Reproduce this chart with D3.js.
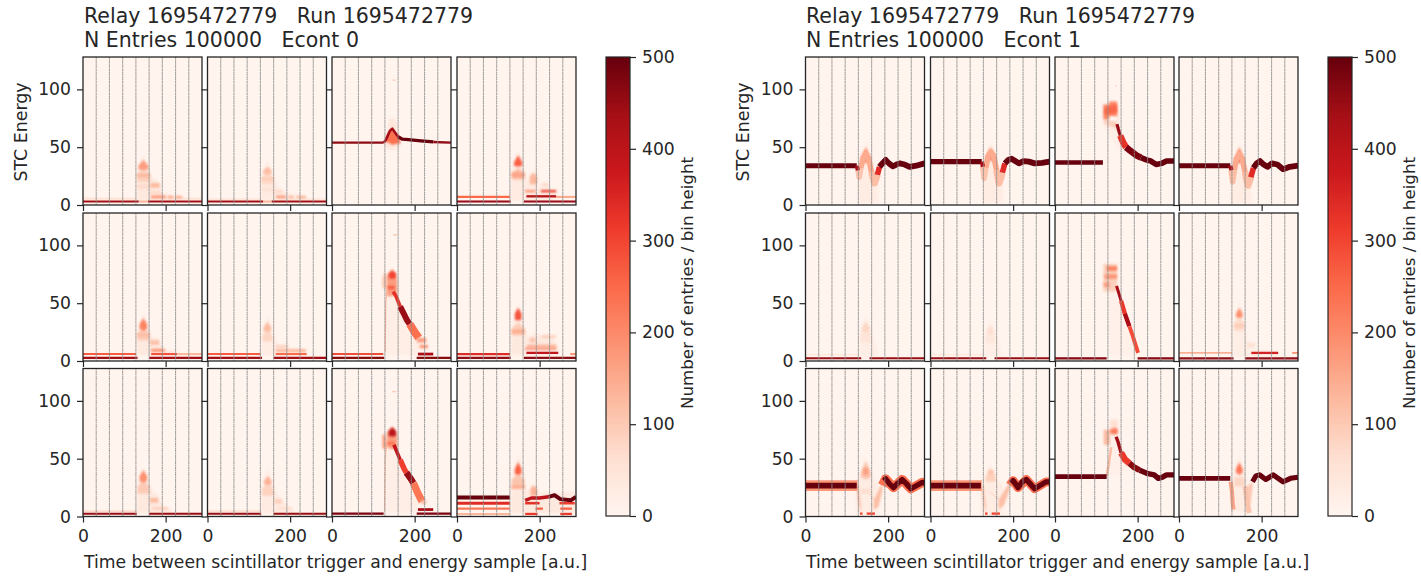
<!DOCTYPE html>
<html>
<head>
<meta charset="utf-8">
<script src="https://cdn.jsdelivr.net/npm/d3@7"></script>
<style>
  body { margin: 0; background: #fff; }
  text { font-family: "DejaVu Sans", sans-serif; fill: #262626; white-space: pre; }
  .tick text { font-size: 17.2px; }
  .tick line { stroke: #262626; stroke-width: 1.2; }
</style>
</head>
<body>
<script>
// tick labels and axis ranges
const xTicks = [0, 200];
const yTicks = [0, 50, 100];
const barTicks = [0, 100, 200, 300, 400, 500];
const gridTimes = [32, 64, 96, 128, 160, 192, 224, 256];
const redsStops = ["#fff5f0", "#fee0d2", "#fcbba1", "#fc9272", "#fb6a4a", "#ef3b2c", "#cb181d", "#a50f15", "#67000d"];

// each layer: [entries, half height, [[time, energy] ...]] or [entries, 0, [[time, low, high] ...]]
const e0_r0c0 = [
  [35, 0, [[129, 4, 6], [133, 4, 30], [146, 4, 44], [159, 4, 30], [166, 4, 24], [182, 4, 20], [190, 4, 10], [240, 4, 8]]],
  [55, 0.9, [[0, 5.5], [128, 5.5]]], [55, 0.9, [[165, 5.5], [288, 5.5]]],
  [90, 0, [[131, 20, 27], [146, 20, 31], [163, 20, 27]]],
  [170, 0, [[134, 31, 34], [146, 30, 39], [158, 31, 34]]],
  [130, 0, [[131, 24, 27], [161, 24, 27]]],
  [70, 0, [[131, 14, 18], [164, 14, 18]]],
  [125, 0, [[163, 15, 19], [186, 15, 19]]],
  [70, 0, [[160, 9, 12], [190, 9, 12]]],
  [200, 0, [[165, 6, 8], [200, 6, 8]]], [190, 0, [[206, 6, 7.6], [218, 6, 7.6]]], [170, 0, [[224, 6, 7.6], [240, 6, 7.6]]],
  [440, 0.9, [[0, 3], [135, 3]]], [440, 0.9, [[157, 3], [288, 3]]], [130, 0.9, [[135, 3], [157, 3]]]
];
const e0_r0c1 = [
  [30, 0, [[129, 4, 6], [133, 4, 26], [145, 4, 39], [158, 4, 27], [168, 4, 17], [185, 4, 11], [240, 4, 8]]],
  [45, 0.8, [[0, 5], [128, 5]]], [45, 0.8, [[170, 5], [288, 5]]],
  [75, 0, [[132, 18, 24], [145, 18, 28], [159, 18, 24]]],
  [120, 0, [[135, 27, 30], [145, 26, 33], [155, 27, 30]]],
  [95, 0, [[131, 21, 24], [160, 21, 24]]],
  [60, 0, [[131, 12, 15], [162, 12, 15]]],
  [70, 0, [[160, 10, 13], [182, 10, 13]]],
  [190, 0, [[166, 6, 8], [190, 6, 8]]], [160, 0, [[196, 6, 7.6], [208, 6, 7.6]]], [160, 0, [[216, 6, 7.6], [238, 6, 7.6]]],
  [440, 0.9, [[0, 3], [135, 3]]], [440, 0.9, [[155, 3], [288, 3]]], [130, 0.9, [[135, 3], [155, 3]]]
];
const e0_r0c2 = [
  [45, 0, [[136, 64, 71], [141, 64, 75], [151, 64, 75], [157, 64, 70]]],
  [35, 0, [[128, 50, 56], [145, 47, 58], [162, 50, 56]]],
  [80, 0.6, [[146, 108], [155, 108]]],
  [240, 0, [[130, 54, 58], [137, 54, 63], [146, 52, 66], [155, 53, 62], [165, 53, 58]]],
  [460, 1, [[0, 54], [125, 54]]],
  [440, 1.1, [[125, 54], [130, 56], [135, 60], [140, 64], [146, 66], [152, 63], [160, 59], [170, 57]]],
  [500, 1.4, [[160, 59], [170, 57], [185, 56.5], [215, 55.5], [245, 54.5]]],
  [460, 1, [[245, 54.5], [288, 54]]]
];
const e0_r0c3 = [
  [30, 0, [[129, 4, 8], [133, 4, 30], [148, 4, 48], [163, 4, 30], [172, 4, 20], [185, 4, 30], [195, 4, 15], [210, 4, 20], [225, 4, 14], [240, 4, 10]]],
  [120, 0, [[134, 22, 28], [148, 22, 32], [162, 22, 28]]],
  [260, 0, [[138, 34, 37], [148, 33, 43], [158, 34, 37]]],
  [160, 0, [[132, 24, 28], [164, 24, 28]]],
  [130, 0, [[176, 18, 25], [185, 18, 28], [194, 18, 25]]],
  [70, 0, [[205, 16, 19], [222, 16, 19]]],
  [190, 0, [[165, 11, 13], [190, 11, 13]]],
  [320, 0, [[203, 11, 13], [240, 11, 13]]],
  [250, 0.9, [[0, 7], [128, 7]]], [410, 1, [[168, 7.5], [240, 7.5]]], [150, 0.9, [[240, 7], [288, 7]]],
  [450, 0.9, [[0, 3], [130, 3]]], [450, 0.9, [[162, 3], [288, 3]]]
];
const e0_r1c0 = [
  [35, 0, [[130, 5, 8], [134, 5, 28], [146, 5, 42], [159, 5, 28], [168, 5, 20], [182, 5, 20], [195, 5, 10], [228, 5, 9]]],
  [100, 0, [[132, 18, 24], [146, 18, 29], [160, 18, 24]]],
  [210, 0, [[137, 28, 32], [146, 26, 37], [155, 28, 32]]],
  [120, 0, [[131, 21, 24], [161, 21, 24]]],
  [115, 0, [[162, 14, 18], [184, 14, 18]]],
  [190, 0, [[165, 8, 10.5], [198, 8, 10.5]]],
  [270, 0.9, [[0, 6], [128, 6]]], [280, 0.9, [[165, 6], [228, 6]]], [130, 0.9, [[228, 6], [288, 6]]],
  [440, 0.9, [[0, 2.7], [132, 2.7]]], [440, 0.9, [[160, 2.7], [288, 2.7]]]
];
const e0_r1c1 = [
  [28, 0, [[130, 5, 8], [134, 5, 26], [145, 5, 39], [158, 5, 24], [170, 5, 15], [190, 5, 12], [240, 5, 10]]],
  [80, 0, [[133, 17, 22], [145, 17, 27], [157, 17, 22]]],
  [125, 0, [[136, 26, 29], [145, 25, 34], [154, 26, 29]]],
  [80, 0, [[166, 11, 14], [195, 11, 14]]],
  [150, 0, [[165, 8, 10], [238, 8, 10]]],
  [270, 0.9, [[0, 6], [128, 6]]], [250, 0.9, [[165, 6], [240, 6]]],
  [440, 0.9, [[0, 2.7], [132, 2.7]]], [440, 0.9, [[160, 2.7], [288, 2.7]]]
];
const e0_r1c2 = [
  [22, 0, [[130, 5, 50], [136, 5, 62], [160, 5, 48], [190, 5, 22], [210, 5, 15]]],
  [110, 0.6, [[148, 109], [157, 109]]],
  [130, 0.5, [[129, 8], [130, 50], [133, 62]]],
  [110, 0, [[122, 64, 72], [128, 62, 77], [133, 62, 74]]],
  [170, 0, [[133, 56, 73], [146, 56, 80], [158, 58, 70]]],
  [300, 0, [[137, 72, 76], [146, 71, 78], [155, 72, 76]]],
  [270, 0, [[135, 62, 65], [152, 62, 65]]],
  [330, 1.6, [[148, 60], [155, 56], [165, 47]]],
  [450, 2.6, [[165, 47], [175, 40], [182, 35], [188, 32]]],
  [240, 3.4, [[188, 32], [200, 25], [210, 20]]],
  [170, 0, [[205, 16, 20], [228, 16, 20]]],
  [180, 0, [[212, 11, 14], [232, 11, 14]]],
  [430, 1.2, [[208, 6], [245, 6]]],
  [290, 0.9, [[0, 6], [124, 6]]],
  [470, 0.9, [[0, 2.7], [126, 2.7]]], [470, 0.9, [[205, 2.7], [288, 2.7]]]
];
const e0_r1c3 = [
  [35, 0, [[130, 5, 8], [134, 5, 30], [148, 5, 49], [162, 5, 30], [172, 5, 20], [185, 5, 24], [205, 5, 22], [225, 5, 24], [245, 5, 12]]],
  [100, 0, [[133, 22, 28], [148, 22, 33], [163, 22, 28]]],
  [280, 0, [[140, 36, 41], [148, 35, 46], [156, 36, 41]]],
  [150, 0, [[132, 24, 27], [164, 24, 27]]],
  [110, 0, [[176, 16, 20], [190, 16, 20]]], [100, 0, [[205, 20, 22], [240, 20, 22]]],
  [150, 0, [[170, 12, 14], [240, 12, 14]]],
  [230, 0, [[165, 10, 11.5], [240, 10, 11.5]]],
  [340, 1, [[0, 6], [128, 6]]], [390, 1, [[168, 7], [245, 7]]], [180, 0.9, [[274, 6], [288, 6]]],
  [460, 0.9, [[0, 2.7], [130, 2.7]]], [460, 0.9, [[162, 2.7], [288, 2.7]]]
];
const e0_r2c0 = [
  [35, 0, [[129, 3, 5], [133, 3, 28], [146, 3, 43], [160, 3, 28], [168, 3, 22], [182, 3, 18], [195, 3, 8], [215, 3, 6]]],
  [100, 0, [[132, 20, 26], [146, 20, 31], [161, 20, 26]]],
  [190, 0, [[137, 31, 35], [146, 29, 40], [155, 31, 35]]],
  [125, 0, [[162, 12, 16], [182, 12, 16]]],
  [100, 0, [[168, 6, 8], [205, 6, 8]]],
  [70, 0.7, [[0, 4.6], [128, 4.6]]],
  [450, 0.9, [[0, 2.4], [130, 2.4]]], [450, 0.9, [[160, 2.4], [288, 2.4]]]
];
const e0_r2c1 = [
  [30, 0, [[129, 3, 5], [133, 3, 26], [146, 3, 41], [160, 3, 26], [168, 3, 20], [180, 3, 16], [195, 3, 8], [210, 3, 5]]],
  [85, 0, [[132, 18, 24], [146, 18, 29], [160, 18, 24]]],
  [140, 0, [[137, 28, 31], [146, 27, 35], [155, 28, 31]]],
  [90, 0, [[162, 11, 15], [180, 11, 15]]],
  [70, 0, [[168, 6, 8], [205, 6, 8]]],
  [60, 0.7, [[0, 4.6], [128, 4.6]]],
  [450, 0.9, [[0, 2.4], [130, 2.4]]], [450, 0.9, [[160, 2.4], [288, 2.4]]]
];
const e0_r2c2 = [
  [20, 0, [[130, 3, 55], [136, 3, 64], [160, 3, 50], [190, 3, 24], [210, 3, 12]]],
  [100, 0.6, [[146, 108], [155, 108]]],
  [120, 0.5, [[127, 5], [129, 50], [132, 62]]],
  [170, 0, [[122, 60, 70], [127, 58, 72], [131, 60, 68]]],
  [170, 0, [[133, 60, 72], [146, 58, 78], [158, 60, 70]]],
  [400, 0, [[137, 70, 74], [146, 69, 77], [155, 70, 74]]],
  [240, 0, [[134, 62, 64.5], [152, 62, 64.5]]],
  [390, 1.6, [[150, 62], [158, 55], [165, 49]]],
  [310, 2.4, [[165, 49], [175, 41], [180, 38]]],
  [450, 2.8, [[180, 38], [190, 33], [197, 29]]],
  [230, 3.2, [[197, 29], [208, 20], [218, 13]]],
  [130, 0, [[214, 11, 14], [228, 11, 14]]],
  [430, 1.2, [[208, 6], [245, 6]]],
  [480, 1, [[0, 2.5], [125, 2.5]]], [480, 1, [[205, 2.5], [288, 2.5]]]
];
const e0_r2c3 = [
  [35, 0, [[130, 3, 20], [134, 3, 36], [148, 3, 53], [162, 3, 36], [170, 3, 20], [182, 3, 28], [195, 3, 20], [288, 3, 21]]],
  [110, 0, [[133, 26, 32], [148, 26, 37], [163, 26, 32]]],
  [260, 0, [[140, 37, 41], [148, 36, 47], [156, 37, 41]]],
  [150, 0, [[132, 24, 27], [164, 24, 27]]],
  [140, 0, [[178, 18, 24], [186, 18, 27], [194, 18, 24]]],
  [340, 1.3, [[0, 11.5], [128, 11.5]]], [330, 1.1, [[165, 11.5], [200, 11.5]]], [310, 1.1, [[248, 11.5], [285, 11.5]]],
  [230, 1, [[0, 6.8], [128, 6.8]]], [260, 1, [[190, 6.8], [208, 6.8]]], [260, 1, [[250, 6.8], [278, 6.8]]],
  [130, 0.9, [[0, 2.2], [128, 2.2]]], [320, 1, [[165, 2.2], [195, 2.2]]], [320, 1, [[250, 2.2], [278, 2.2]]],
  [500, 1.8, [[0, 16.4], [128, 16.4]]],
  [400, 1.5, [[165, 14], [180, 16], [200, 16], [222, 17]]],
  [500, 1.7, [[222, 17], [236, 18.5], [250, 15], [275, 14], [288, 17]]]
];

const e1_r0c0 = [
  [25, 0, [[127, 2, 30], [133, 2, 40], [146, 2, 54], [158, 2, 40], [166, 2, 30], [176, 2, 30]]],
  [200, 0, [[134, 38, 41], [146, 36, 50], [158, 38, 41]]],
  [110, 2.4, [[126, 32], [130, 24], [134, 32]]],
  [150, 2.4, [[134, 32], [139, 40], [146, 44], [153, 40], [160, 28]]],
  [120, 3, [[160, 28], [167, 19], [174, 26]]],
  [340, 2.4, [[174, 26], [179, 33]]],
  [500, 2.2, [[0, 34], [124, 34]]], [430, 1.8, [[124, 34], [127, 30]]],
  [500, 2.5, [[179, 33], [186, 36], [194, 39], [202, 36], [211, 33.5], [220, 35], [228, 36], [240, 35], [252, 33], [268, 34], [288, 36]]]
];
const e1_r0c1 = [
  [25, 0, [[127, 2, 32], [133, 2, 42], [146, 2, 54], [158, 2, 42], [166, 2, 32], [176, 2, 32]]],
  [200, 0, [[134, 39, 42], [146, 38, 50], [158, 39, 42]]],
  [110, 2.4, [[126, 34], [130, 23], [134, 32]]],
  [150, 2.4, [[134, 32], [139, 42], [146, 46], [153, 42], [160, 30]]],
  [120, 3, [[160, 30], [166, 19], [174, 28]]],
  [340, 2.4, [[174, 28], [180, 36]]],
  [500, 2.3, [[0, 37.5], [124, 37.5]]], [430, 1.8, [[124, 37.5], [127, 33]]],
  [500, 2.5, [[180, 36], [188, 39], [196, 40], [205, 38], [214, 36], [225, 38], [238, 37.5], [252, 36], [270, 36.5], [288, 37.5]]]
];
const e1_r0c2 = [
  [20, 0, [[118, 68, 72], [150, 50, 72], [175, 44, 50]]],
  [70, 0.8, [[146, 103], [150, 103]]],
  [90, 0, [[118, 70, 74], [150, 66, 72]]],
  [210, 0, [[117, 74, 87], [130, 74, 87], [132, 77, 89.5], [150, 77, 89.5], [151, 70, 80]]],
  [255, 0, [[120, 78, 84], [150, 80, 87]]],
  [450, 1.4, [[150, 70], [153, 66], [158, 60]]],
  [330, 2.8, [[158, 60], [165, 54], [172, 50]]],
  [480, 2.8, [[172, 50], [182, 47], [197, 43], [208, 41]]],
  [500, 2.4, [[208, 41], [221, 39], [232, 38], [245, 35], [258, 36], [270, 38], [288, 38]]],
  [500, 2, [[0, 36.8], [116, 36.8]]]
];
const e1_r0c3 = [
  [25, 0, [[126, 2, 28], [133, 2, 38], [146, 2, 54], [158, 2, 38], [166, 2, 30], [176, 2, 28]]],
  [210, 0, [[134, 37, 40], [146, 36, 50], [158, 37, 40]]],
  [120, 2.4, [[126, 30], [130, 20], [134, 30]]],
  [150, 2.4, [[134, 30], [139, 40], [146, 44], [153, 40], [160, 28]]],
  [120, 3, [[160, 28], [167, 17], [174, 24]]],
  [340, 2.4, [[174, 24], [180, 32]]],
  [500, 2.2, [[0, 34], [124, 34]]], [430, 1.8, [[124, 34], [127, 30]]],
  [500, 2.5, [[180, 32], [188, 36], [196, 38], [205, 35], [214, 33], [225, 36], [238, 35], [252, 31], [268, 33], [288, 34]]]
];
const e1_r1c0 = [
  [20, 0, [[130, 4, 8], [133, 4, 26], [146, 4, 40], [160, 4, 24], [175, 4, 8]]],
  [50, 0, [[133, 16, 24], [146, 16, 30], [159, 16, 24]]],
  [80, 0, [[137, 26, 29], [146, 25, 34], [155, 26, 29]]],
  [35, 0.7, [[0, 5.5], [128, 5.5]]],
  [450, 0.9, [[0, 2.4], [135, 2.4]]], [450, 0.9, [[155, 2.4], [288, 2.4]]]
];
const e1_r1c1 = [
  [18, 0, [[130, 4, 8], [133, 4, 24], [145, 4, 37], [159, 4, 22], [172, 4, 8]]],
  [40, 0, [[133, 15, 22], [145, 15, 28], [157, 15, 22]]],
  [65, 0, [[137, 24, 26], [145, 23, 31], [153, 24, 26]]],
  [30, 0.7, [[0, 5.5], [128, 5.5]]],
  [450, 0.9, [[0, 2.4], [135, 2.4]]], [450, 0.9, [[155, 2.4], [288, 2.4]]]
];
const e1_r1c2 = [
  [15, 0, [[130, 5, 62], [150, 5, 60], [190, 5, 22]]],
  [90, 0, [[117, 60, 84], [150, 60, 84]]],
  [170, 0, [[118, 64, 68], [132, 64, 68]]], [180, 0, [[120, 71, 75], [150, 71, 75]]], [210, 0, [[125, 78, 82], [150, 78, 82]]],
  [430, 1.3, [[149, 65], [155, 58], [160, 52]]],
  [320, 1.9, [[160, 52], [165, 46], [169, 41]]],
  [430, 1.9, [[169, 41], [176, 34], [180, 30]]],
  [290, 1.7, [[180, 30], [188, 22], [194, 15], [201, 7]]],
  [470, 1, [[0, 2.2], [125, 2.2]]], [470, 1, [[200, 2.2], [288, 2.2]]]
];
const e1_r1c3 = [
  [22, 0, [[130, 4, 8], [133, 4, 30], [146, 4, 53], [160, 4, 28], [170, 4, 14], [190, 4, 9], [240, 4, 9]]],
  [70, 0, [[133, 26, 33], [146, 26, 38], [158, 26, 33]]],
  [190, 0, [[138, 38, 41], [146, 37, 46], [154, 38, 41]]],
  [100, 0, [[134, 29, 32], [158, 29, 32]]],
  [60, 0, [[165, 12, 16], [185, 12, 16]]],
  [140, 0.8, [[0, 7], [128, 7]]], [360, 1, [[175, 7], [240, 7]]], [180, 0.8, [[274, 7], [288, 7]]],
  [460, 0.9, [[0, 2.3], [132, 2.3]]], [460, 0.9, [[160, 2.3], [288, 2.3]]]
];
const e1_r2c0 = [
  [25, 0, [[122, 2, 30], [133, 2, 38], [146, 2, 52], [160, 2, 34], [175, 2, 30]]],
  [110, 0, [[134, 34, 38], [146, 32, 48], [158, 34, 38]]],
  [70, 0, [[135, 20, 24], [158, 20, 24]]],
  [170, 0, [[140, 36, 42], [152, 36, 42]]],
  [60, 0.8, [[140, 24], [170, 14]]],
  [300, 1, [[132, 2.5], [138, 2.5]]], [300, 1, [[148, 2.5], [168, 2.5]]],
  [120, 0, [[124, 24, 27], [128, 12, 26], [134, 3, 10]]],
  [120, 0, [[165, 6, 14], [176, 8, 22], [186, 22, 30]]],
  [180, 4.6, [[0, 26.7], [126, 26.7]]],
  [500, 2.4, [[0, 26.7], [124, 26.7]]],
  [240, 4, [[186, 27], [194, 32.6], [213, 25], [234, 32], [255, 24], [283, 29.5], [288, 29]]],
  [500, 2.3, [[190, 31], [194, 32.6], [204, 28], [213, 25], [224, 29], [234, 32], [245, 28], [255, 24], [270, 27], [283, 29.5], [288, 29]]]
];
const e1_r2c1 = [
  [24, 0, [[122, 2, 30], [133, 2, 36], [146, 2, 46], [160, 2, 32], [175, 2, 28]]],
  [90, 0, [[134, 30, 34], [146, 30, 42], [158, 30, 34]]],
  [110, 0, [[140, 36, 40], [152, 36, 40]]],
  [60, 0.8, [[140, 22], [170, 14]]],
  [300, 1, [[132, 2.5], [138, 2.5]]], [300, 1, [[148, 2.5], [168, 2.5]]],
  [120, 0, [[124, 24, 27], [128, 12, 26], [134, 3, 10]]],
  [120, 0, [[165, 6, 14], [178, 10, 22], [192, 24, 30]]],
  [180, 4.6, [[0, 26.7], [124, 26.7]]],
  [500, 2.4, [[0, 26.7], [122, 26.7]]],
  [240, 3.8, [[192, 27], [200, 31], [212, 25], [232, 32], [252, 24], [280, 30], [288, 30]]],
  [500, 2.3, [[195, 29], [200, 31], [206, 28], [212, 25], [222, 30], [232, 32], [242, 28], [252, 24], [266, 27], [280, 30], [288, 30]]]
];
const e1_r2c2 = [
  [15, 0, [[125, 35, 50], [133, 36, 70], [150, 35, 70], [175, 40, 50]]],
  [60, 0, [[134, 70, 84], [152, 70, 84]]],
  [130, 0, [[118, 62, 75], [133, 62, 75]]],
  [220, 0, [[133, 72, 75], [146, 71, 77], [152, 72, 75]]],
  [120, 1.1, [[125, 35], [130, 45], [136, 60]]],
  [440, 1.5, [[148, 69], [153, 64], [160, 55]]],
  [320, 2.8, [[160, 55], [170, 49], [180, 46]]],
  [470, 2.6, [[180, 46], [190, 43], [205, 40]]],
  [500, 2.3, [[205, 40], [225, 37], [240, 36], [250, 33], [260, 34], [270, 36], [288, 36]]],
  [500, 2.1, [[0, 34.5], [125, 34.5]]]
];
const e1_r2c3 = [
  [24, 0, [[125, 4, 30], [133, 4, 38], [146, 4, 52], [158, 4, 38], [166, 4, 28], [176, 4, 28]]],
  [230, 0, [[138, 38, 41], [146, 36, 47], [154, 38, 41]]],
  [80, 0, [[134, 26, 34], [158, 26, 34]]],
  [160, 1.8, [[125, 30], [128, 22], [130, 12], [132, 6]]],
  [110, 2.2, [[160, 26], [166, 10], [170, 3]]],
  [110, 0, [[166, 10, 26], [172, 10, 28], [178, 26, 30]]],
  [500, 2, [[0, 33], [124, 33]]],
  [500, 2.2, [[178, 30], [186, 35], [195, 36], [210, 32], [228, 36], [240, 33], [252, 30], [270, 33], [288, 34]]]
];

const econt0Panels = [
  [e0_r0c0, e0_r0c1, e0_r0c2, e0_r0c3],
  [e0_r1c0, e0_r1c1, e0_r1c2, e0_r1c3],
  [e0_r2c0, e0_r2c1, e0_r2c2, e0_r2c3]
];
const econt1Panels = [
  [e1_r0c0, e1_r0c1, e1_r0c2, e1_r0c3],
  [e1_r1c0, e1_r1c1, e1_r1c2, e1_r1c3],
  [e1_r2c0, e1_r2c1, e1_r2c2, e1_r2c3]
];

const svg = d3.select("body").append("svg")
    .attr("width", 1421)
    .attr("height", 576)
    .style("display", "block");

// the reference is a resampled image: blobs are soft, ridges a bit less
// filter regions in user space, flat lines have an empty bounding box
let defs = svg.append("defs");
defs.append("filter").attr("id", "softLine")
    .attr("filterUnits", "userSpaceOnUse")
    .attr("x", -10).attr("y", -10).attr("width", 140).attr("height", 170)
    .append("feGaussianBlur").attr("stdDeviation", 0.6);
defs.append("filter").attr("id", "softBlob")
    .attr("filterUnits", "userSpaceOnUse")
    .attr("x", -10).attr("y", -10).attr("width", 140).attr("height", 170)
    .append("feGaussianBlur").attr("stdDeviation", 1);

const color = d3.scaleLinear()
    .domain(redsStops.map((d, i) => i * 500 / (redsStops.length - 1)))
    .range(redsStops);

const rowTops = [57, 213, 368.5];
const panelH = 148;
const panelW = 119;

function drawFigure(panels, colLefts, barLeft, econt, left, yLabelX, barLabelX) {
    let fig = svg.append("g");

    // title
    fig.append("text").attr("x", left).attr("y", 23).style("font-size", "20.5px")
        .text("Relay 1695472779   Run 1695472779");
    fig.append("text").attr("x", left).attr("y", 47).style("font-size", "20.5px")
        .text(`N Entries 100000   Econt ${econt}`);

    panels.forEach((row, r) => {
        row.forEach((layers, c) => {
            let g = fig.append("g").attr("transform", `translate(${colLefts[c]},${rowTops[r]})`);
            let x = d3.scaleLinear().domain([0, 288]).range([0, panelW]);
            let y = d3.scaleLinear().domain([0, 128]).range([panelH, 0]);
            let clipId = `clip-${econt}-${r}-${c}`;

            g.append("clipPath").attr("id", clipId)
                .append("rect").attr("width", panelW).attr("height", panelH);

            g.append("rect").attr("width", panelW).attr("height", panelH).attr("fill", color(4));

            let marks = g.append("g").attr("clip-path", `url(#${clipId})`);

            layers.forEach(layer => {
                let w = layer[1];
                if (w > 0) {
                    // a ridge keeps its thickness on steep stretches too
                    let line = d3.line().x(d => x(d[0])).y(d => y(d[1]));
                    marks.append("path").attr("d", line(layer[2]))
                        .attr("fill", "none")
                        .attr("stroke", color(layer[0]))
                        .attr("stroke-width", y(0) - y(2 * w))
                        .attr("stroke-linejoin", "round")
                        .attr("filter", "url(#softLine)");
                } else {
                    let area = d3.area().x(d => x(d[0])).y0(d => y(d[1])).y1(d => y(d[2]));
                    marks.append("path").attr("d", area(layer[2]))
                        .attr("fill", color(layer[0]))
                        .attr("filter", "url(#softBlob)");
                }
            });

            // dotted section lines
            g.selectAll(".section").data(gridTimes).enter().append("line")
                .attr("x1", d => x(d)).attr("x2", d => x(d))
                .attr("y1", 0).attr("y2", panelH)
                .attr("stroke", "#8c8c8c")
                .attr("stroke-width", 1.1)
                .attr("stroke-dasharray", "2,0.4")
                .attr("opacity", 0.8);

            g.append("rect").attr("width", panelW).attr("height", panelH)
                .attr("fill", "none").attr("stroke", "#262626").attr("stroke-width", 1.3);

            let yAxis = d3.axisLeft(y).tickValues(yTicks).tickSize(6).tickPadding(6);
            if (c > 0) yAxis.tickFormat("");
            g.append("g").call(yAxis).call(s => s.select(".domain").remove());

            let xAxis = d3.axisBottom(x).tickValues(xTicks).tickSize(6).tickPadding(7);
            if (r < 2) xAxis.tickFormat("");
            g.append("g").attr("transform", `translate(0,${panelH})`).call(xAxis)
                .call(s => s.select(".domain").remove());
        });
    });

    // axis labels
    fig.append("text").attr("x", left).attr("y", 568).style("font-size", "17.2px")
        .text("Time between scintillator trigger and energy sample [a.u.]");
    fig.append("text")
        .attr("transform", `translate(${yLabelX},132) rotate(-90)`)
        .attr("text-anchor", "middle").style("font-size", "17.4px")
        .text("STC Energy");

    // colour bar
    let barY = d3.scaleLinear().domain([0, 500]).range([516, 57]);
    let barG = fig.append("g").attr("transform", `translate(${barLeft},0)`);
    barG.selectAll(".cell").data(d3.range(0, 500)).enter().append("rect")
        .attr("x", 0).attr("width", 24)
        .attr("y", d => barY(d + 1)).attr("height", 1.5)
        .attr("shape-rendering", "crispEdges")
        .attr("fill", d => color(d + 0.5));
    barG.append("rect").attr("y", 57).attr("width", 24).attr("height", 459)
        .attr("fill", "none").attr("stroke", "#262626").attr("stroke-width", 1.2);
    barG.append("g").attr("transform", "translate(24,0)")
        .call(d3.axisRight(barY).tickValues(barTicks).tickSize(6).tickPadding(6))
        .call(s => s.select(".domain").remove());
    fig.append("text")
        .attr("transform", `translate(${barLabelX},283) rotate(-90)`)
        .attr("text-anchor", "middle").style("font-size", "16.7px")
        .text("Number of entries / bin height");
}

drawFigure(econt0Panels, [83, 207.5, 332, 457], 606, 0, 84, 27, 693);
drawFigure(econt1Panels, [805.5, 930.5, 1055, 1179], 1328, 1, 806, 749, 1415);
</script>
</body>
</html>
